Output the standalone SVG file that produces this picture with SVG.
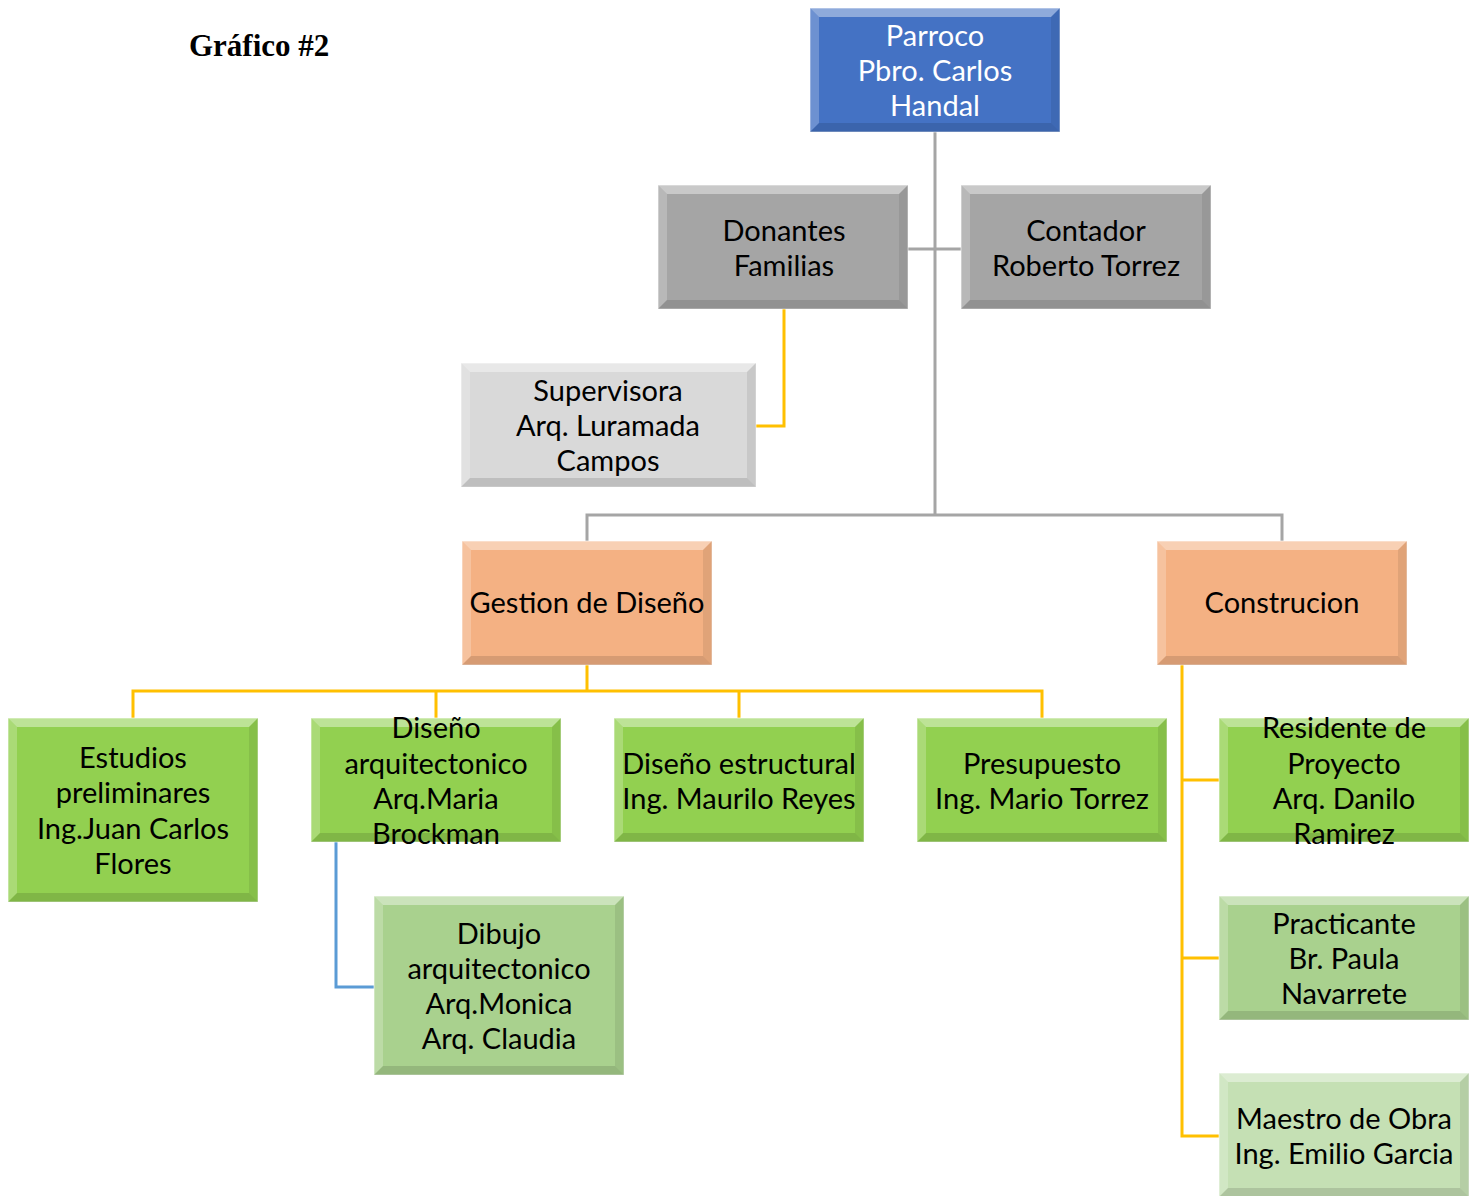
<svg xmlns="http://www.w3.org/2000/svg" width="1475" height="1196" viewBox="0 0 1475 1196">
<style>
.t{font-family:Lato,"Open Sans","Noto Sans",sans-serif;font-size:29px;text-anchor:middle;dominant-baseline:central;fill:#000}
.w{fill:#fff}
.box{stroke:#fff;stroke-opacity:.6;stroke-width:1}
.blue{fill:#4472C4}.grey{fill:#A5A5A5}.lgrey{fill:#D9D9D9}.orange{fill:#F4B183}.green{fill:#92D050}.lgreen{fill:#A9D18E}.llgreen{fill:#C5E0B4}
.bt{fill:#fff;fill-opacity:.4}.bl{fill:#fff;fill-opacity:.22}.br{fill:#000;fill-opacity:.08}.bb{fill:#000;fill-opacity:.12}
.cg{stroke:#A5A5A5;stroke-width:3;fill:none}
.cy{stroke:#FFC000;stroke-width:3;fill:none}
.cb{stroke:#5B9BD5;stroke-width:3;fill:none}
.title{font-family:"Liberation Serif","Times New Roman",serif;font-weight:bold;font-size:31px;fill:#000}
</style>
<defs>
<g id="bev">
<polygon class="bt" points="0,0 250,0 241,9 9,9"/>
<polygon class="bl" points="0,0 9,9 9,115 0,124"/>
<polygon class="br" points="250,0 250,124 241,115 241,9"/>
<polygon class="bb" points="0,124 250,124 241,115 9,115"/>
</g>
</defs>
<rect width="1475" height="1196" fill="#fff"/>
<text class="title" x="189" y="56">Gráfico #2</text>

<g id="connectors">
<path class="cg" d="M935,132 V515 M908,249 H961 M587,541 V515 H1282 V541"/>
<path class="cy" d="M784,309 V426 H756"/>
<path class="cy" d="M587,665 V691 M133,718 V691 H1042 V718 M436,691 V718 M739,691 V718"/>
<path class="cb" d="M336,842 V987 H374"/>
<path class="cy" d="M1182,665 V1136 H1219 M1182,780 H1219 M1182,958 H1219"/>
</g>

<g id="n-parroco">
<rect class="box blue" x="810" y="8" width="250" height="124"/>
<use href="#bev" x="810" y="8"/>
<text class="t w" x="935" y="34">Parroco</text>
<text class="t w" x="935" y="69">Pbro. Carlos</text>
<text class="t w" x="935" y="104">Handal</text>
</g>

<g id="n-donantes">
<rect class="box grey" x="658" y="185" width="250" height="124"/>
<use href="#bev" x="658" y="185"/>
<text class="t" x="784" y="229">Donantes</text>
<text class="t" x="784" y="264">Familias</text>
</g>

<g id="n-contador">
<rect class="box grey" x="961" y="185" width="250" height="124"/>
<use href="#bev" x="961" y="185"/>
<text class="t" x="1086" y="229">Contador</text>
<text class="t" x="1086" y="264">Roberto Torrez</text>
</g>

<g id="n-supervisora">
<rect class="box lgrey" x="461" y="363" width="295" height="124"/>
<polygon class="bt" points="461,363 756,363 747,372 470,372"/>
<polygon class="bl" points="461,363 470,372 470,478 461,487"/>
<polygon class="br" points="756,363 756,487 747,478 747,372"/>
<polygon class="bb" points="461,487 756,487 747,478 470,478"/>
<text class="t" x="608" y="389">Supervisora</text>
<text class="t" x="608" y="424">Arq. Luramada</text>
<text class="t" x="608" y="459">Campos</text>
</g>

<g id="n-gestion">
<rect class="box orange" x="462" y="541" width="250" height="124"/>
<use href="#bev" x="462" y="541"/>
<text class="t" x="587" y="601">Gestion de Diseño</text>
</g>

<g id="n-construcion">
<rect class="box orange" x="1157" y="541" width="250" height="124"/>
<use href="#bev" x="1157" y="541"/>
<text class="t" x="1282" y="601">Construcion</text>
</g>

<g id="n-estudios">
<rect class="box green" x="8" y="718" width="250" height="184"/>
<polygon class="bt" points="8,718 258,718 249,727 17,727"/>
<polygon class="bl" points="8,718 17,727 17,893 8,902"/>
<polygon class="br" points="258,718 258,902 249,893 249,727"/>
<polygon class="bb" points="8,902 258,902 249,893 17,893"/>
<text class="t" x="133" y="756">Estudios</text>
<text class="t" x="133" y="791">preliminares</text>
<text class="t" x="133" y="827">Ing.Juan Carlos</text>
<text class="t" x="133" y="862">Flores</text>
</g>

<g id="n-disenoarq">
<rect class="box green" x="311" y="718" width="250" height="124"/>
<use href="#bev" x="311" y="718"/>
<text class="t" x="436" y="726">Diseño</text>
<text class="t" x="436" y="762">arquitectonico</text>
<text class="t" x="436" y="797">Arq.Maria</text>
<text class="t" x="436" y="832">Brockman</text>
</g>

<g id="n-disenoest">
<rect class="box green" x="614" y="718" width="250" height="124"/>
<use href="#bev" x="614" y="718"/>
<text class="t" x="739" y="762">Diseño estructural</text>
<text class="t" x="739" y="797">Ing. Maurilo Reyes</text>
</g>

<g id="n-presupuesto">
<rect class="box green" x="917" y="718" width="250" height="124"/>
<use href="#bev" x="917" y="718"/>
<text class="t" x="1042" y="762">Presupuesto</text>
<text class="t" x="1042" y="797">Ing. Mario Torrez</text>
</g>

<g id="n-residente">
<rect class="box green" x="1219" y="718" width="250" height="124"/>
<use href="#bev" x="1219" y="718"/>
<text class="t" x="1344" y="726">Residente de</text>
<text class="t" x="1344" y="762">Proyecto</text>
<text class="t" x="1344" y="797">Arq. Danilo</text>
<text class="t" x="1344" y="832">Ramirez</text>
</g>

<g id="n-dibujo">
<rect class="box lgreen" x="374" y="896" width="250" height="179"/>
<polygon class="bt" points="374,896 624,896 615,905 383,905"/>
<polygon class="bl" points="374,896 383,905 383,1066 374,1075"/>
<polygon class="br" points="624,896 624,1075 615,1066 615,905"/>
<polygon class="bb" points="374,1075 624,1075 615,1066 383,1066"/>
<text class="t" x="499" y="932">Dibujo</text>
<text class="t" x="499" y="967">arquitectonico</text>
<text class="t" x="499" y="1002">Arq.Monica</text>
<text class="t" x="499" y="1037">Arq. Claudia</text>
</g>

<g id="n-practicante">
<rect class="box lgreen" x="1219" y="896" width="250" height="124"/>
<use href="#bev" x="1219" y="896"/>
<text class="t" x="1344" y="922">Practicante</text>
<text class="t" x="1344" y="957">Br. Paula</text>
<text class="t" x="1344" y="992">Navarrete</text>
</g>

<g id="n-maestro">
<rect class="box llgreen" x="1219" y="1073" width="250" height="124"/>
<use href="#bev" x="1219" y="1073"/>
<text class="t" x="1344" y="1117">Maestro de Obra</text>
<text class="t" x="1344" y="1152">Ing. Emilio Garcia</text>
</g>
</svg>
